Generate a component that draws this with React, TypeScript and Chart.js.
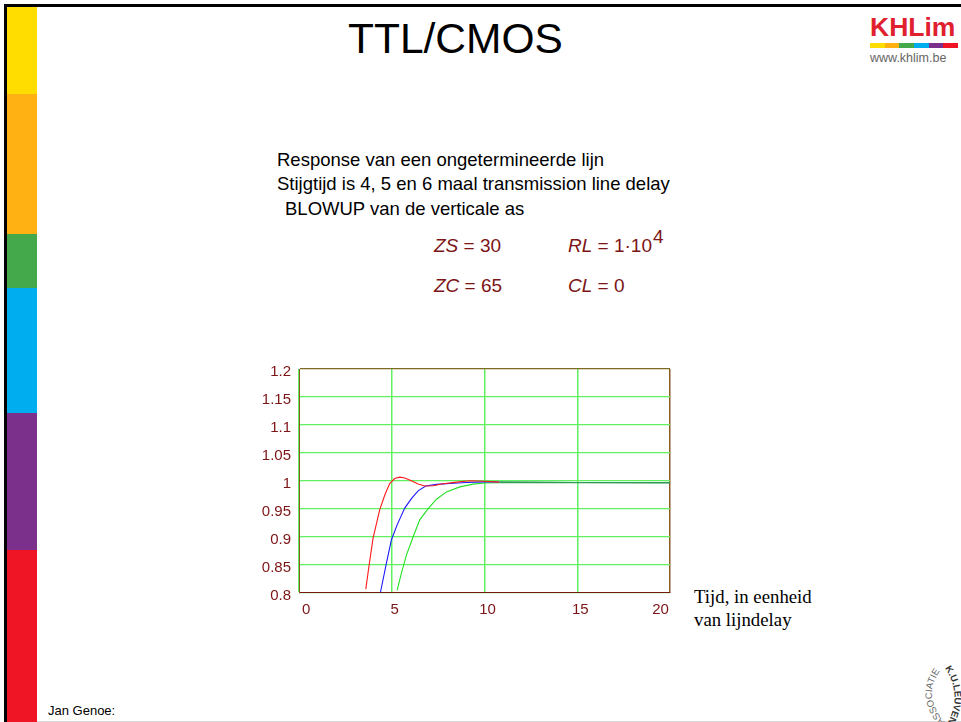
import React, { useEffect, useRef } from "react";
import { Chart, registerables } from "chart.js";

Chart.register(...registerables);

const FONT = '"Liberation Sans", Arial, sans-serif';
const SERIF = '"Liberation Serif", "Times New Roman", serif';
const DARK_RED = "#7d1416";

const xTicks = [0, 5, 10, 15, 20];
const xTickLabels = ["0", "5", "10", "15", "20 "];
const yTicks = [0.8, 0.85, 0.9, 0.95, 1, 1.05, 1.1, 1.15, 1.2];
const yTickLabels = ["0.8", "0.85", "0.9", "0.95", "1", "1.05", "1.1", "1.15", "1.2"];

const redX = [3.6, 3.78, 3.99, 4.35, 4.62, 4.89, 5.16, 5.43, 5.7, 6.06, 6.42, 6.78, 7.23, 7.77, 8.49, 9.21, 10, 10.8, 15, 20];
const redY = [0.806, 0.849, 0.897, 0.948, 0.974, 0.995, 1.004, 1.0065, 1.005, 1.0, 0.994, 0.9905, 0.991, 0.9945, 0.9975, 1.0, 0.999, 0.9975, 0.9968, 0.9965];
const blueX = [4.39, 4.71, 4.98, 5.29, 5.7, 6.06, 6.42, 6.83, 7.41, 8.13, 9.03, 10, 10.8, 15, 20];
const blueY = [0.8, 0.852, 0.894, 0.921, 0.951, 0.968, 0.982, 0.9905, 0.9935, 0.995, 0.997, 0.998, 0.9978, 0.9968, 0.9965];
const greenX = [5.29, 5.52, 5.79, 6.19, 6.51, 6.91, 7.41, 7.95, 8.67, 9.39, 10, 10.8, 15, 20];
const greenY = [0.8036, 0.8345, 0.867, 0.903, 0.93, 0.948, 0.967, 0.98, 0.989, 0.994, 0.996, 0.9965, 0.9965, 0.9965];

const sidebar = [
  { top: 7, height: 87, color: "#ffdd00" },
  { top: 94, height: 140, color: "#ffb012" },
  { top: 234, height: 54, color: "#43a94a" },
  { top: 288, height: 125, color: "#00aeef" },
  { top: 413, height: 137, color: "#7b308c" },
  { top: 550, height: 172, color: "#ef1524" },
];
const logoStrip = ["#ffdd00", "#ffb012", "#43a94a", "#00aeef", "#7b308c", "#ef1524"];

const pts = (xs: number[], ys: number[]) => xs.map((x, i) => ({ x, y: ys[i] }));

function Txt(props: { x: number; y: number; size: number; color?: string; font?: string; weight?: string; children: React.ReactNode }) {
  return (
    <div
      style={{
        position: "absolute",
        left: props.x,
        top: props.y,
        fontSize: props.size,
        lineHeight: `${props.size}px`,
        fontFamily: props.font || FONT,
        fontWeight: props.weight || "normal",
        color: props.color || "#000",
        whiteSpace: "pre",
      }}
    >
      {props.children}
    </div>
  );
}

export default function App() {
  const ref = useRef<HTMLCanvasElement>(null);
  useEffect(() => {
    document.body.style.margin = "0";
    const line = (label: string, xs: number[], ys: number[], color: string) => ({
      label,
      data: pts(xs, ys),
      borderColor: color,
      borderWidth: 1.1,
      pointRadius: 0,
      tension: 0,
      fill: false,
      showLine: true,
      segment: {
        borderColor: (c: any) => (c.p0.parsed.x >= 10.8 ? "#2f9a55" : undefined),
      },
    });
    const chart = new Chart(ref.current!, {
      type: "scatter",
      data: {
        datasets: [
          line("Stijgtijd 4", redX, redY, "#ff1a1a"),
          line("Stijgtijd 5", blueX, blueY, "#1a1aff"),
          line("Stijgtijd 6", greenX, greenY, "#22e022"),
        ],
      },
      options: {
        animation: false,
        responsive: false,
        layout: { padding: { left: 0, top: 369, right: 291, bottom: 0 } },
        plugins: { legend: { display: false }, tooltip: { enabled: false } },
        scales: {
          x: {
            type: "linear",
            min: 0,
            max: 20,
            afterBuildTicks: (s: any) => {
              s.ticks = xTicks.map((value) => ({ value }));
            },
            afterFit: (s: any) => {
              s.height = 129.5;
            },
            border: { color: "#7d1416", width: 1 },
            grid: {
              color: (c: any) => (c.tick && c.tick.value === 20 ? "#8a5a20" : "#60f060"),
              lineWidth: 1.5,
              drawTicks: false,
            },
            ticks: {
              align: "inner",
              maxRotation: 0,
              labelOffset: 3,
              padding: 8,
              color: DARK_RED,
              font: { family: FONT, size: 15 },
              callback: (v: any) => xTickLabels[xTicks.indexOf(v)],
            },
          },
          y: {
            type: "linear",
            min: 0.8,
            max: 1.2,
            afterBuildTicks: (s: any) => {
              s.ticks = yTicks.map((value) => ({ value }));
            },
            afterFit: (s: any) => {
              s.width = 299;
            },
            border: { color: "#8a5a20", width: 1 },
            grid: {
              color: (c: any) => (c.tick && c.tick.value === 1.2 ? "#7d6a20" : "#60f060"),
              lineWidth: 1.3,
              drawTicks: false,
            },
            ticks: {
              padding: 8,
              labelOffset: 3,
              color: DARK_RED,
              font: { family: FONT, size: 15 },
              callback: (v: any) => yTickLabels[yTicks.indexOf(v)],
            },
          },
        },
      },
    } as any);
    return () => chart.destroy();
  }, []);

  return (
    <div style={{ position: "absolute", left: 0, top: 0, width: 961, height: 722, overflow: "hidden", background: "#fff" }}>
      {sidebar.map((s) => (
        <div key={s.top} style={{ position: "absolute", left: 7, top: s.top, width: 30, height: s.height, background: s.color }} />
      ))}
      <div style={{ position: "absolute", left: 4, top: 4, width: 957, height: 3, background: "#000" }} />
      <div style={{ position: "absolute", left: 4, top: 4, width: 3, height: 718, background: "#000" }} />
      <div style={{ position: "absolute", left: 37, top: 721, width: 924, height: 1, background: "#d8d8d8" }} />

      <Txt x={348} y={18} size={42.5}>TTL/CMOS</Txt>

      <Txt x={870} y={14} size={26.5} weight="bold" color="#e0202f">KHLim</Txt>
      <div style={{ position: "absolute", left: 870, top: 43, width: 88, height: 5, display: "flex" }}>
        {logoStrip.map((c) => (
          <div key={c} style={{ flex: 1, background: c }} />
        ))}
      </div>
      <Txt x={870} y={52} size={12.5} color="#666">www.khlim.be</Txt>

      <Txt x={277} y={151} size={18.5}>Response van een ongetermineerde lijn</Txt>
      <Txt x={277} y={175} size={18.5}>Stijgtijd is 4, 5 en 6 maal transmission line delay</Txt>
      <Txt x={285} y={200} size={18.5}>BLOWUP van de verticale as</Txt>

      <Txt x={434} y={236} size={19} color={DARK_RED}><i>ZS</i> = 30</Txt>
      <Txt x={568} y={236} size={19} color={DARK_RED}><i>RL</i> = 1·10</Txt>
      <Txt x={653} y={227} size={19} color={DARK_RED}>4</Txt>
      <Txt x={434} y={276} size={19} color={DARK_RED}><i>ZC</i> = 65</Txt>
      <Txt x={568} y={276} size={19} color={DARK_RED}><i>CL</i> = 0</Txt>

      <Txt x={694} y={588} size={18.8} font={SERIF}>Tijd, in eenheid</Txt>
      <Txt x={694} y={611} size={18.8} font={SERIF}>van lijndelay</Txt>
      <Txt x={48} y={704} size={13}>Jan Genoe:</Txt>

      <svg width={961} height={722} style={{ position: "absolute", left: 0, top: 0 }}>
        <defs>
          <path id="sealA" d="M 945 722 Q 919.5 694 944 666" />
          <path id="sealB" d="M 945 668 Q 963 695 947 724" />
        </defs>
        <text fontFamily={FONT} fontSize={9.5} fill="#666">
          <textPath href="#sealA">ASSOCIATIE</textPath>
        </text>
        <text fontFamily={FONT} fontSize={9.5} fontWeight="bold" fill="#333">
          <textPath href="#sealB">K.U.LEUVEN</textPath>
        </text>
      </svg>

      <canvas ref={ref} width={961} height={722} style={{ position: "absolute", left: 0, top: 0, display: "block" }} />
    </div>
  );
}
